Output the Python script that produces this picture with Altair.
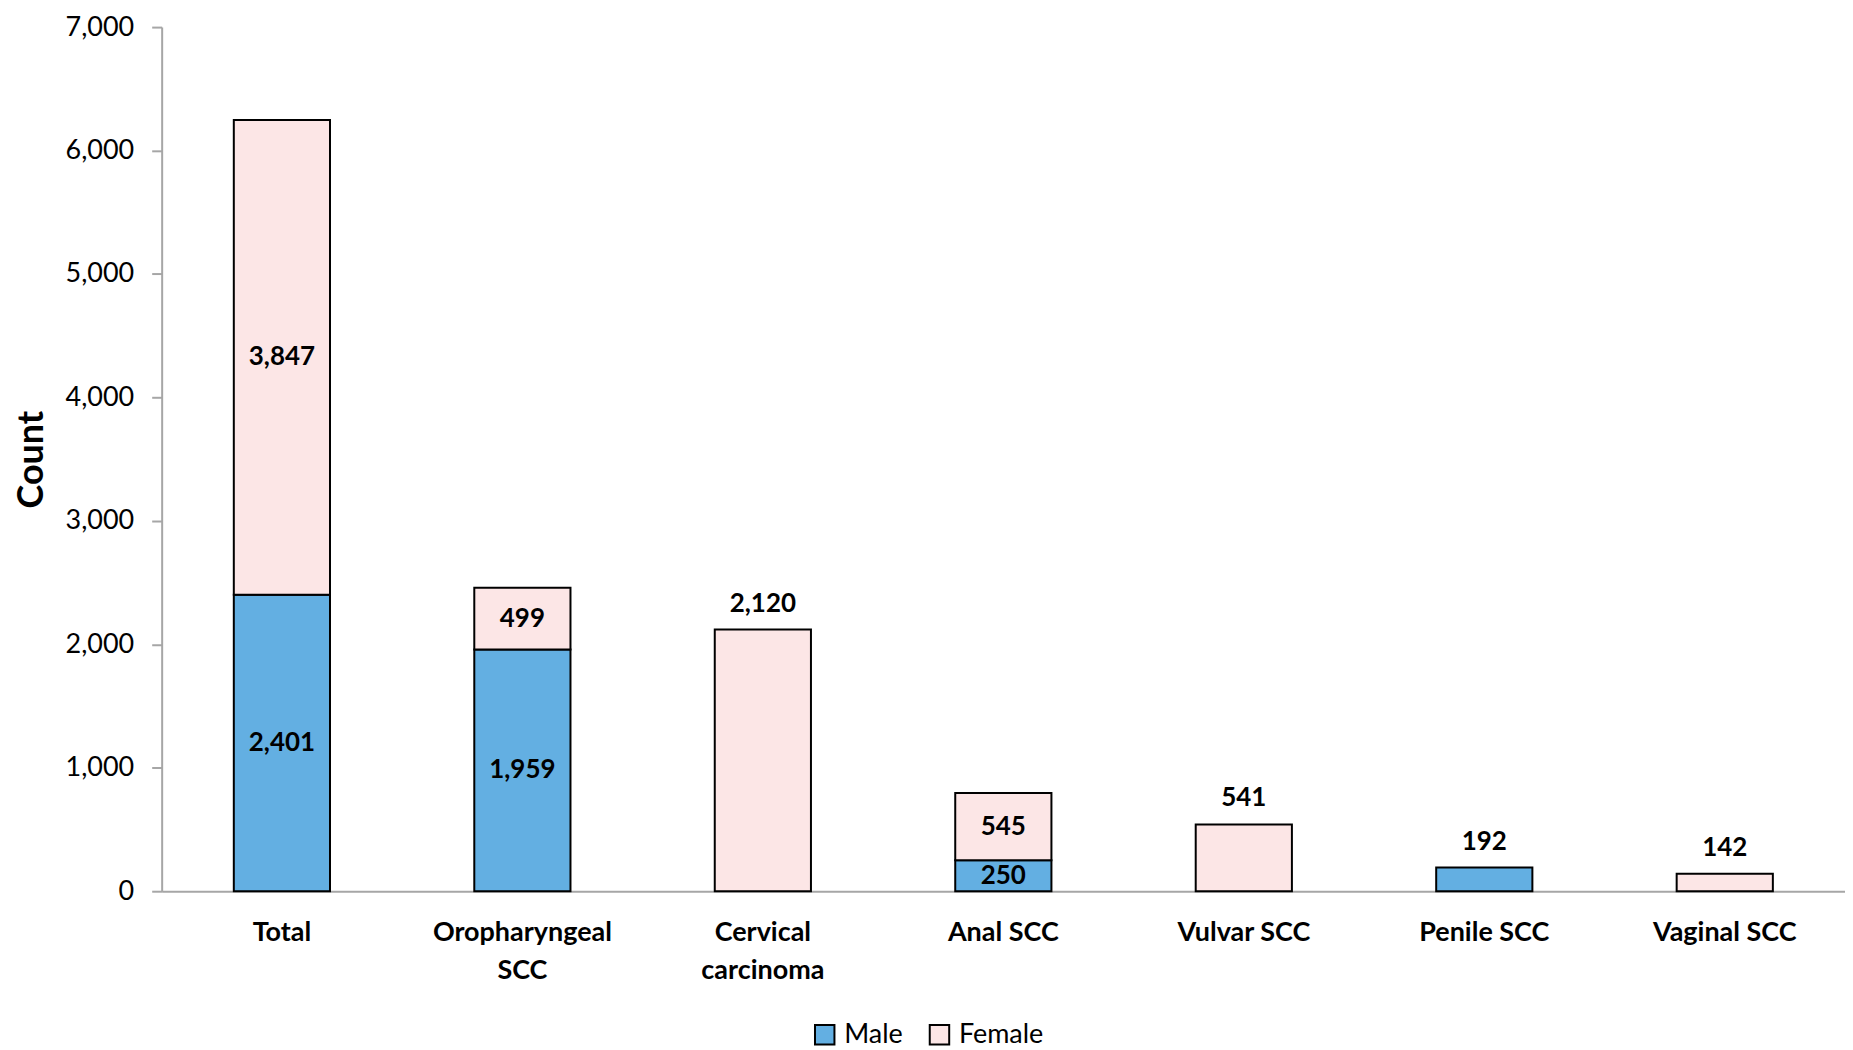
import altair as alt
import pandas as pd

categories = ["Total", "Oropharyngeal SCC", "Cervical carcinoma", "Anal SCC",
              "Vulvar SCC", "Penile SCC", "Vaginal SCC"]
male = [2401, 1959, 0, 250, 0, 192, 0]
female = [3847, 499, 2120, 545, 541, 0, 142]
y_ticks = [0, 1000, 2000, 3000, 4000, 5000, 6000, 7000]

FONT = "Lato"
BLUE = "#63AFE2"
PINK = "#FCE6E6"
GRAY = "#A6A6A6"

bar_rows = []
in_labels = []
above_labels = []
for c, m, f in zip(categories, male, female):
    if m > 0:
        bar_rows.append({"category": c, "sex": "Male", "lo": 0, "hi": m})
    if f > 0:
        bar_rows.append({"category": c, "sex": "Female", "lo": m, "hi": m + f})
    if m > 0 and f > 0:
        in_labels.append({"category": c, "value": m, "pos": m / 2})
        in_labels.append({"category": c, "value": f, "pos": m + f / 2})
    else:
        above_labels.append({"category": c, "value": m + f, "pos": m + f})

bars_df = pd.DataFrame(bar_rows)
in_df = pd.DataFrame(in_labels)
above_df = pd.DataFrame(above_labels)

label_expr = ("datum.value == 'Oropharyngeal SCC' ? ['Oropharyngeal', 'SCC'] : "
              "datum.value == 'Cervical carcinoma' ? ['Cervical', 'carcinoma'] : datum.value")

x_enc = alt.X(
    "category:N", sort=categories,
    scale=alt.Scale(domain=categories, paddingInner=0.6, paddingOuter=0.3),
    axis=alt.Axis(title=None, labelAngle=0, labelFont=FONT, labelFontSize=27,
                  labelFontWeight="bold", labelColor="black", ticks=False,
                  domainColor=GRAY, domainWidth=2, labelPadding=28,
                  labelLineHeight=38, labelExpr=label_expr),
)
y_scale = alt.Scale(domain=[0, 7000], nice=False)

bars = alt.Chart(bars_df).mark_bar(stroke="black", strokeWidth=2).encode(
    x=x_enc,
    y=alt.Y("lo:Q", scale=y_scale,
            axis=alt.Axis(values=y_ticks, format=",d", grid=False, tickSize=10,
                          tickColor=GRAY, tickWidth=2, domainColor=GRAY, domainWidth=2,
                          labelFont=FONT, labelFontSize=27, labelColor="black",
                          labelPadding=18, title="Count", titleFont=FONT,
                          titleFontSize=36, titleFontWeight="bold", titleColor="black",
                          titlePadding=15)),
    y2="hi:Q",
    fill=alt.Fill("sex:N", scale=alt.Scale(domain=["Male", "Female"], range=[BLUE, PINK]),
                  legend=alt.Legend(title=None, orient="none", legendX=651, legendY=996,
                                    direction="horizontal", symbolType="square",
                                    symbolSize=380, symbolStrokeColor="black",
                                    symbolStrokeWidth=2, labelFont=FONT, labelFontSize=27,
                                    labelColor="black", columnPadding=22, labelOffset=6)),
)

text_in = alt.Chart(in_df).mark_text(font=FONT, fontSize=26, fontWeight="bold",
                                     color="black", baseline="middle").encode(
    x=alt.X("category:N", sort=categories),
    y=alt.Y("pos:Q", scale=y_scale),
    text=alt.Text("value:Q", format=",d"),
)

text_above = alt.Chart(above_df).mark_text(font=FONT, fontSize=26, fontWeight="bold",
                                           color="black", baseline="middle", dy=-26).encode(
    x=alt.X("category:N", sort=categories),
    y=alt.Y("pos:Q", scale=y_scale),
    text=alt.Text("value:Q", format=",d"),
)

chart = alt.layer(bars, text_in, text_above).properties(
    width=1687, height=866,
    padding={"left": 154, "top": 18, "right": 0, "bottom": 158},
    autosize=alt.AutoSizeParams(type="none"),
).configure_view(stroke=None)

chart.save("out.html", embed_options={"renderer": "svg", "actions": False})
